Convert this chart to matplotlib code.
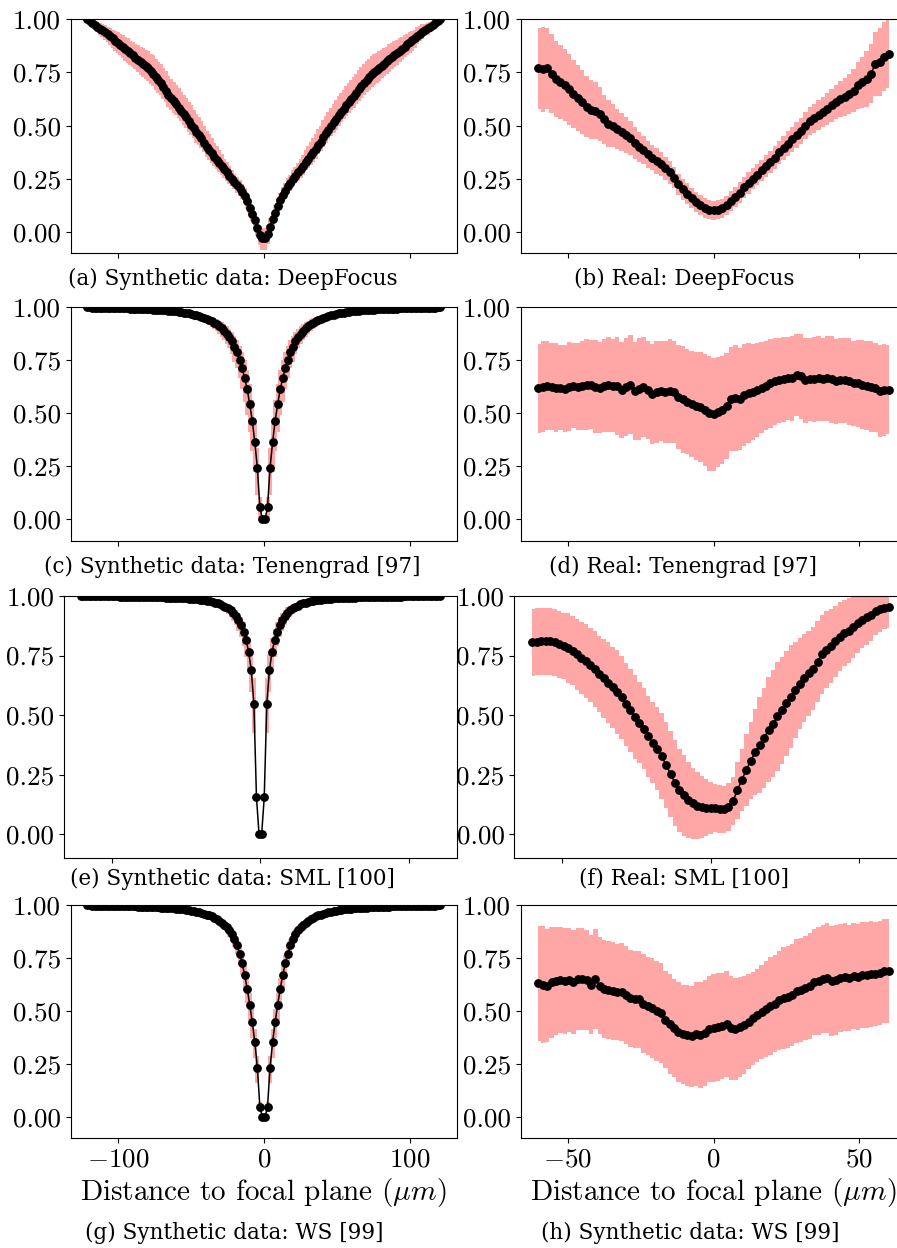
import numpy as np
import matplotlib
matplotlib.use("Agg")
import matplotlib.pyplot as plt

plt.rcParams['font.family'] = 'cmr10'
plt.rcParams['mathtext.fontset'] = 'cm'
plt.rcParams['axes.formatter.use_mathtext'] = True

# ---- synthetic panels: values listed from the centre outwards (k = 0 .. 69) ----
x_syn = np.linspace(-121, 121, 140)

a_mean_left = [-.03, -.015, .02, .055, .085, .115, .145, .17, .19, .205,
               .22, .235, .25, .265, .28, .295, .31, .325, .34, .355,
               .37, .385, .4, .42, .44, .455, .47, .49, .505, .52,
               .54, .555, .57, .585, .6, .615, .63, .645, .665, .68,
               .7, .715, .73, .745, .755, .77, .78, .79, .8, .81,
               .82, .83, .84, .85, .86, .87, .88, .89, .9, .91,
               .92, .93, .94, .948, .956, .965, .973, .982, .991, 1.0]
a_mean_right = [-.03, -.01, .025, .06, .09, .12, .15, .175, .195, .215,
                .23, .25, .265, .28, .295, .31, .33, .345, .36, .375,
                .39, .41, .425, .445, .465, .48, .5, .515, .53, .55,
                .565, .58, .595, .61, .625, .64, .655, .67, .685, .7,
                .715, .73, .742, .752, .762, .772, .782, .792, .802, .812,
                .822, .832, .842, .852, .862, .872, .882, .892, .902, .912,
                .922, .932, .942, .95, .958, .966, .974, .983, .992, 1.0]
a_lo = [.055, .045, .04, .035, .035, .035, .035, .035, .035, .035,
        .035, .035, .035, .04, .04, .04, .04, .045, .045, .045,
        .045, .045, .045, .045, .045, .045, .05, .05, .05, .05,
        .05, .05, .05, .05, .05, .055, .055, .055, .055, .055,
        .055, .06, .06, .06, .06, .06, .06, .06, .06, .06,
        .055, .055, .055, .055, .055, .05, .05, .05, .05, .045,
        .04, .035, .035, .03, .03, .025, .02, .02, .015, .01]
a_hi = [.05, .045, .04, .035, .035, .035, .035, .035, .035, .04,
        .04, .04, .04, .045, .05, .05, .055, .06, .065, .065,
        .07, .075, .075, .08, .08, .085, .085, .085, .09, .09,
        .09, .09, .09, .09, .09, .09, .09, .09, .09, .09,
        .09, .085, .085, .085, .08, .08, .075, .075, .07, .07,
        .065, .065, .06, .06, .055, .055, .05, .05, .045, .04,
        .04, .035, .035, .03, .025, .02, .015, .012, .008, .005]

c_mean = [0.0, .057, .244, .363, .464, .542, .613, .665, .712, .752,
          .787, .811, .838, .858, .874, .888, .9, .91, .919, .927,
          .934, .94, .945, .95, .954, .958, .961, .964, .967, .97,
          .972, .974, .976, .978, .98, .981, .982, .983, .984, .985,
          .986, .987, .988, .988, .989, .989, .99, .99, .991, .991,
          .992, .992, .992, .993, .993, .993, .994, .994, .994, .995,
          .995, .995, .996, .996, .996, .997, .997, .997, .998, .998]
c_lo = [0.0, .05, .13, .14, .14, .13, .12, .11, .1, .085,
        .075, .068, .06, .053, .048, .043, .039, .035, .031, .029,
        .026, .023, .021, .02, .018, .017, .016, .014, .013, .012,
        .012, .01, .01, .01, .01, .01, .009, .009, .009, .009,
        .009, .008, .008, .008, .008, .008, .008, .008, .008, .008,
        .008, .005, .005, .005, .005, .005, .005, .005, .005, .005,
        .005, .005, .005, .005, .005, .005, .005, .005, .005, .005]
c_hi = [0.0, .05, .09, .1, .1, .095, .09, .085, .075, .065,
        .058, .052, .045, .04, .036, .032, .029, .026, .023, .021,
        .018, .017, .016, .014, .013, .012, .01, .01, .009, .008,
        .008, .007, .007, .007, .007, .007, .005, .005, .005, .005,
        .005, .004, .004, .004, .004, .004, .004, .004, .004, .004,
        .004, .003, .003, .003, .003, .003, .003, .003, .003, .003,
        .003, .003, .003, .003, .003, .003, .003, .003, .003, .003]

e_mean = [0.0, .155, .547, .688, .764, .814, .85, .878, .9, .917,
          .93, .94, .948, .955, .96, .965, .969, .972, .975, .978,
          .98, .982, .984, .985, .986, .987, .988, .989, .99, .99,
          .991, .991, .992, .992, .993, .993, .993, .994, .994, .994,
          .995, .995, .995, .995, .996, .996, .996, .996, .996, .997,
          .997, .997, .997, .997, .997, .998, .998, .998, .998, .998,
          .998, .998, .999, .999, .999, .999, .999, .999, .999, .999]
e_lo = [0.0, 0.0, .12, .09, .08, .068, .06, .052, .045, .039,
        .034, .029, .025, .021, .019, .016, .014, .012, .011, .01,
        .009, .008, .008, .007, .007, .006, .006, .006, .006, .006,
        .005, .005, .005, .005, .005, .004, .004, .004, .004, .004,
        .004, .004, .004, .004, .003, .003, .003, .003, .003, .003,
        .002, .002, .002, .002, .002, .002, .002, .002, .002, .002,
        .002, .002, .002, .002, .002, .002, .002, .002, .002, .002]
e_hi = [0.0, 0.0, .11, .07, .06, .048, .041, .035, .03, .025,
        .022, .018, .016, .013, .012, .011, .01, .008, .007, .006,
        .006, .005, .005, .005, .004, .004, .004, .004, .003, .003,
        .002, .002, .002, .002, .002, .002, .002, .002, .002, .002,
        .002, .002, .002, .002, .002, .002, .002, .002, .002, .002,
        .001, .001, .001, .001, .001, .001, .001, .001, .001, .001,
        .001, .001, .001, .001, .001, .001, .001, .001, .001, .001]

g_mean = [0.0, .047, .233, .354, .448, .53, .605, .67, .725, .77,
          .81, .84, .862, .88, .895, .907, .917, .926, .933, .94,
          .946, .951, .955, .959, .962, .965, .968, .971, .973, .975,
          .977, .979, .98, .982, .983, .984, .985, .986, .987, .988,
          .988, .989, .989, .99, .99, .991, .991, .992, .992, .992,
          .993, .993, .993, .994, .994, .994, .995, .995, .995, .995,
          .996, .996, .996, .996, .997, .997, .997, .997, .998, .998]
g_lo = [0.0, .025, .07, .075, .075, .07, .065, .06, .054, .048,
        .043, .038, .034, .03, .027, .024, .021, .019, .017, .015,
        .014, .012, .012, .012, .011, .011, .01, .01, .009, .009,
        .009, .007, .007, .007, .007, .007, .007, .007, .007, .007,
        .007, .005, .005, .005, .005, .005, .005, .005, .005, .005,
        .004, .004, .004, .004, .004, .004, .004, .004, .004, .004,
        .004, .004, .004, .004, .004, .004, .004, .004, .004, .004]
g_hi = [0.0, .025, .055, .06, .06, .055, .05, .046, .041, .036,
        .032, .029, .025, .023, .02, .018, .016, .014, .013, .012,
        .011, .009, .009, .008, .008, .008, .007, .007, .007, .007,
        .006, .005, .005, .005, .005, .005, .005, .005, .005, .005,
        .004, .003, .003, .003, .003, .003, .003, .003, .003, .003,
        .002, .002, .002, .002, .002, .002, .002, .002, .002, .002,
        .002, .002, .002, .002, .002, .002, .002, .002, .002, .002]

# ---- real panels: x = -60 .. 60 ----
x_real = np.linspace(-60, 60, 81)

b_mean = [.77, .765, .77, .745, .72, .705, .69, .67, .65, .63, .61,
          .59, .575, .57, .555, .53, .51, .5, .485, .47, .455,
          .44, .42, .4, .385, .365, .35, .335, .32, .3, .28,
          .255, .225, .2, .18, .16, .14, .125, .113, .105, .102,
          .104, .112, .125, .145, .165, .185, .21, .23, .25, .27,
          .29, .31, .33, .35, .375, .395, .415, .435, .455, .475,
          .5, .52, .535, .55, .565, .58, .595, .61, .625, .635,
          .65, .665, .69, .705, .72, .745, .79, .8, .825, .835]
b_std = [.19, .2, .19, .185, .18, .175, .17, .165, .16, .155, .15,
         .145, .14, .135, .125, .115, .11, .1, .095, .09, .085,
         .08, .075, .07, .065, .065, .06, .06, .055, .055, .055,
         .05, .05, .05, .05, .048, .048, .047, .046, .045, .045,
         .045, .045, .046, .047, .047, .048, .048, .05, .05, .05,
         .05, .05, .052, .053, .055, .056, .058, .06, .06, .062,
         .064, .066, .068, .07, .072, .075, .078, .08, .085, .09,
         .095, .1, .11, .12, .13, .14, .15, .16, .16, .16]

d_mean = [.618, .625, .63, .625, .62, .62, .615, .625, .63, .625, .63,
          .635, .635, .625, .62, .63, .635, .63, .628, .61, .625,
          .635, .605, .615, .625, .61, .59, .6, .605, .6, .605,
          .6, .575, .565, .555, .545, .535, .53, .515, .5, .495,
          .505, .515, .535, .565, .57, .565, .585, .595, .6, .61,
          .62, .63, .64, .65, .655, .66, .665, .665, .68, .675,
          .655, .66, .66, .665, .66, .665, .66, .65, .655, .655,
          .65, .64, .64, .635, .63, .625, .62, .605, .61, .61]
d_std = [.21, .215, .21, .205, .21, .2, .205, .21, .2, .205, .21,
         .215, .21, .22, .215, .22, .225, .22, .23, .225, .23,
         .235, .23, .24, .235, .23, .235, .24, .235, .24, .245,
         .24, .245, .25, .245, .25, .255, .26, .265, .27, .265,
         .26, .255, .25, .245, .25, .24, .24, .235, .225, .22,
         .215, .21, .21, .205, .2, .2, .195, .2, .195, .2,
         .2, .195, .2, .2, .195, .2, .205, .2, .2, .2,
         .205, .2, .205, .21, .21, .215, .21, .215, .215, .21]

f_mean = [.805, .808, .81, .81, .81, .805, .798, .79, .782, .77, .755,
          .74, .728, .712, .695, .672, .655, .636, .617, .598, .575,
          .545, .52, .493, .468, .443, .412, .385, .36, .33, .29,
          .255, .215, .185, .165, .145, .13, .12, .115, .113, .11,
          .11, .108, .105, .115, .14, .185, .23, .27, .31, .345,
          .375, .405, .44, .465, .495, .52, .55, .578, .605, .632,
          .655, .675, .695, .725, .755, .775, .79, .81, .83, .845,
          .855, .87, .885, .9, .91, .92, .935, .945, .95, .955]
f_std = [.14, .14, .14, .14, .14, .14, .14, .14, .145, .145, .15,
         .15, .155, .155, .16, .16, .165, .17, .17, .175, .175,
         .175, .175, .175, .17, .17, .17, .17, .175, .18, .18,
         .18, .18, .175, .17, .16, .15, .14, .13, .12, .11,
         .1, .1, .1, .1, .1, .12, .13, .15, .16, .18,
         .2, .21, .22, .225, .23, .225, .22, .215, .2, .19,
         .185, .18, .175, .17, .165, .16, .155, .15, .145, .14,
         .135, .13, .125, .12, .115, .11, .1, .095, .09, .09]

h_mean = [.63, .625, .62, .635, .64, .645, .64, .645, .635, .65, .65,
          .645, .625, .65, .62, .605, .6, .595, .59, .59, .575,
          .56, .555, .555, .535, .525, .515, .5, .49, .46, .44,
          .42, .4, .39, .385, .38, .39, .385, .395, .415, .42,
          .425, .43, .44, .42, .415, .425, .435, .45, .465, .48,
          .495, .51, .525, .535, .55, .56, .565, .575, .595, .6,
          .61, .62, .635, .64, .65, .655, .64, .645, .655, .66,
          .655, .665, .66, .67, .67, .675, .675, .68, .69, .69]
h_std = [.27, .275, .265, .26, .255, .25, .25, .245, .245, .24, .24,
         .235, .235, .235, .23, .23, .23, .23, .225, .23, .23,
         .23, .23, .23, .235, .23, .235, .235, .235, .23, .235,
         .23, .235, .235, .24, .24, .245, .25, .25, .25, .255,
         .255, .25, .25, .245, .24, .235, .23, .225, .22, .22,
         .22, .225, .23, .23, .235, .24, .24, .24, .245, .245,
         .245, .25, .25, .255, .255, .26, .26, .26, .255, .255,
         .25, .25, .25, .25, .25, .25, .245, .245, .245, .245]

captions = ['(a) Synthetic data: DeepFocus', '(b) Real: DeepFocus',
            '(c) Synthetic data: Tenengrad [97]', '(d) Real: Tenengrad [97]',
            '(e) Synthetic data: SML [100]', '(f) Real: SML [100]',
            '(g) Synthetic data: WS [99]', '(h) Synthetic data: WS [99]']

PINK = '#ffa6a6'
W, H = 897, 1248
fig = plt.figure(figsize=(W / 100, H / 100), dpi=100)


def px_axes(x0, x1, y0, y1):
    return fig.add_axes([x0 / W, 1 - y1 / H, (x1 - x0) / W, (y1 - y0) / H])


def full(left, right):
    return np.array(left[::-1] + right)


syn = [(full(a_mean_left, a_mean_right), full(a_lo, a_lo), full(a_hi, a_hi)),
       (full(c_mean, c_mean), full(c_lo, c_lo), full(c_hi, c_hi)),
       (full(e_mean, e_mean), full(e_lo, e_lo), full(e_hi, e_hi)),
       (full(g_mean, g_mean), full(g_lo, g_lo), full(g_hi, g_hi))]
real = [(b_mean, b_std), (d_mean, d_std), (f_mean, f_std), (h_mean, h_std)]

rows = [(19.3, 253.3), (307.0, 540.7), (596.0, 858.3), (905.0, 1138.3)]
left_x = [(70.7, 456.7), (70.7, 456.7), (64.0, 456.7), (70.7, 456.7)]
right_x = [(520.7, 906.3), (520.7, 906.3), (514.3, 907.0), (520.7, 906.3)]
cap_y = [279, 567, 879, 1233]
cap_x = [(233, 684), (232.5, 683), (232.5, 683.5), (234, 690)]

for r in range(4):
    y0, y1 = rows[r]
    axL = px_axes(*left_x[r], y0, y1)
    axR = px_axes(*right_x[r], y0, y1)

    mean, lo, hi = syn[r]
    axL.errorbar(x_syn, mean, yerr=[lo, hi], fmt='none', ecolor=PINK,
                 elinewidth=2.8, capsize=0)
    axL.plot(x_syn, mean, '-o', color='black', ms=5.3, lw=1.1)
    axL.set_xlim(-132.3, 132.3)
    axL.set_xticks([-100, 0, 100])

    m = np.array(real[r][0])
    s = np.array(real[r][1])
    axR.fill_between(x_real, m - s, m + s, step='mid', color=PINK, lw=0)
    axR.plot(x_real, m, '-o', color='black', ms=5.3, lw=1.1)
    axR.set_xlim(-66.1, 66.1)
    axR.set_xticks([-50, 0, 50])

    for ax in (axL, axR):
        ax.set_ylim(-0.1, 1.0)
        ax.set_yticks([0, 0.25, 0.5, 0.75, 1.0])
        ax.set_yticklabels(['0.00', '0.25', '0.50', '0.75', '1.00'])
        ax.tick_params(labelsize=19.5)
        if r < 3:
            ax.tick_params(labelbottom=False)
        else:
            ax.set_xlabel(r'Distance to focal plane ($\mu m$)', fontsize=21,
                          labelpad=3)

    fig.text(cap_x[r][0] / W, 1 - cap_y[r] / H, captions[2 * r],
             family='DejaVu Serif', fontsize=15.5, ha='center', va='center')
    fig.text(cap_x[r][1] / W, 1 - cap_y[r] / H, captions[2 * r + 1],
             family='DejaVu Serif', fontsize=15.5, ha='center', va='center')

fig.savefig('out.png', dpi=100)
